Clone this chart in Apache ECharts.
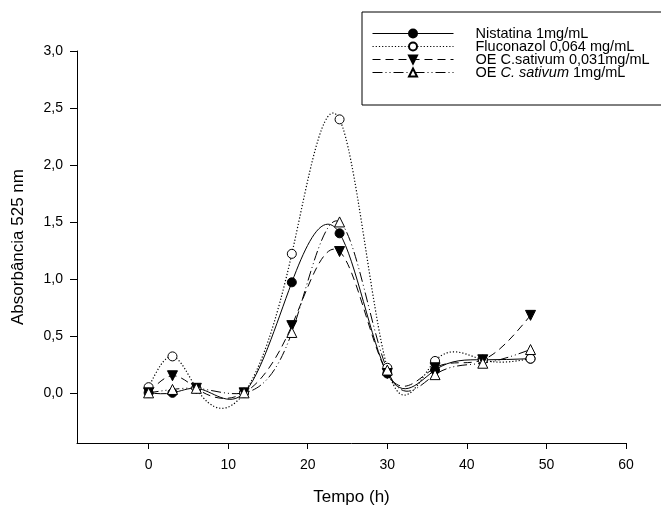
<!DOCTYPE html>
<html>
<head>
<meta charset="utf-8">
<script src="https://cdn.jsdelivr.net/npm/echarts@6/dist/echarts.min.js"></script>
<style>
  html, body { margin: 0; padding: 0; background: #fff; }
  #chart { width: 661px; height: 511px; }
</style>
</head>
<body>
<div id="chart"></div>
<script>
// tempo (h) e absorbância
var tempo = [0, 3, 6, 12, 18, 24, 30, 36, 42, 48];
var nistatina = [0.0, 0.0, 0.04, 0.0, 0.97, 1.40, 0.17, 0.20, 0.29, 0.30];
var fluconazol = [0.05, 0.32, 0.04, 0.0, 1.22, 2.40, 0.22, 0.28, 0.29, 0.30];
var oe031 = [0.0, 0.15, 0.04, 0.0, 0.59, 1.24, 0.17, 0.22, 0.29, 0.68];
var oe1 = [0.0, 0.03, 0.04, 0.0, 0.53, 1.50, 0.20, 0.16, 0.26, 0.38];

var xTicks = [0, 10, 20, 30, 40, 50, 60];
var yTicks = [0, 0.5, 1.0, 1.5, 2.0, 2.5, 3.0];

var nomes = ['Nistatina 1mg/mL', 'Fluconazol 0,064 mg/mL', 'OE C.sativum 0,031mg/mL', 'OE C. sativum 1mg/mL'];
var tracos = ['solid', [1.2, 2], [8, 5], [10, 3, 1, 3, 1, 3]];

function pares(ys) {
	var out = [];
	for (var i = 0; i < tempo.length; i++) {
		out.push([tempo[i], ys[i]]);
	}
	return out;
}

// spline cubica natural (como a curva do SigmaPlot), desenhada como bezier
function segmentos(xs, ys) {
	var n = xs.length;
	var h = [], M = [], a = [], b = [], c = [], d = [];
	for (var i = 0; i < n - 1; i++) h.push(xs[i + 1] - xs[i]);
	for (var i = 0; i < n; i++) {
		if (i === 0 || i === n - 1) { a[i] = 0; b[i] = 1; c[i] = 0; d[i] = 0; continue; }
		a[i] = h[i - 1];
		b[i] = 2 * (h[i - 1] + h[i]);
		c[i] = h[i];
		d[i] = 6 * ((ys[i + 1] - ys[i]) / h[i] - (ys[i] - ys[i - 1]) / h[i - 1]);
	}
	for (var i = 1; i < n; i++) {
		var w = a[i] / b[i - 1];
		b[i] -= w * c[i - 1];
		d[i] -= w * d[i - 1];
	}
	M[n - 1] = d[n - 1] / b[n - 1];
	for (var i = n - 2; i >= 0; i--) M[i] = (d[i] - c[i] * M[i + 1]) / b[i];
	var segs = [];
	for (var i = 0; i < n - 1; i++) {
		var dy = (ys[i + 1] - ys[i]) / h[i];
		var m0 = dy - h[i] * (2 * M[i] + M[i + 1]) / 6;
		var m1 = dy + h[i] * (M[i] + 2 * M[i + 1]) / 6;
		segs.push([
			[xs[i] + h[i] / 3, ys[i] + h[i] * m0 / 3],
			[xs[i + 1] - h[i] / 3, ys[i + 1] - h[i] * m1 / 3],
			[xs[i + 1], ys[i + 1]]
		]);
	}
	return segs;
}

function curva(ys, traco) {
	return {
		type: 'custom',
		silent: true,
		z: 1,
		data: pares(ys),
		encode: { x: 0, y: 1 },
		renderItem: function (params, api) {
			if (params.dataIndex !== 0) return null;
			var p0 = api.coord([tempo[0], ys[0]]);
			var d = 'M' + p0[0] + ' ' + p0[1];
			segmentos(tempo, ys).forEach(function (s) {
				var c1 = api.coord(s[0]), c2 = api.coord(s[1]), p = api.coord(s[2]);
				d += ' C' + c1[0] + ' ' + c1[1] + ' ' + c2[0] + ' ' + c2[1] + ' ' + p[0] + ' ' + p[1];
			});
			return {
				type: 'path',
				shape: { pathData: d },
				style: {
					stroke: '#000',
					fill: null,
					lineWidth: traco === tracos[1] ? 1.2 : 1,
					lineDash: traco === 'solid' ? null : traco
				}
			};
		}
	};
}

function pontos(i, ys, symbol, fill) {
	return {
		name: nomes[i],
		type: 'line',
		data: pares(ys),
		symbol: symbol,
		symbolSize: symbol === 'circle' ? 9 : 10,
		z: 3,
		lineStyle: { opacity: 0, width: 0 },
		itemStyle: { color: fill, borderColor: '#000', borderWidth: 1 }
	};
}

var font = 'Liberation Sans, Arial, sans-serif';
var myChart = echarts.init(document.getElementById('chart'));

var legendData = nomes.map(function (n, i) {
	return {
		name: n,
		lineStyle: { color: '#000', width: 1, opacity: 1, type: tracos[i] }
	};
});

var option = {
	animation: false,
	backgroundColor: '#fff',
	grid: { left: 77, right: 35, top: 51, bottom: 67 },
	legend: {
		orient: 'vertical',
		left: 362,
		top: 12,
		padding: [14, 20, 25, 10],
		borderColor: '#000',
		borderWidth: 1,
		itemWidth: 81,
		itemHeight: 10,
		itemGap: -2,
		data: legendData,
		textStyle: {
			fontFamily: font,
			fontSize: 14.5,
			lineHeight: 13,
			color: '#000',
			padding: [0, 0, 0, 17],
			rich: {
				n: { fontFamily: font, fontSize: 14.5, lineHeight: 13, color: '#000' },
				i: { fontFamily: font, fontSize: 14.5, lineHeight: 13, color: '#000', fontStyle: 'italic' }
			}
		},
		formatter: function (name) {
			if (name === nomes[3]) {
				return '{n|OE }{i|C. sativum}{n| 1mg/mL}';
			}
			return name;
		}
	},
	xAxis: {
		type: 'value',
		min: -9,
		max: 60,
		name: 'Tempo (h)',
		nameLocation: 'middle',
		nameGap: 46,
		nameTextStyle: { fontFamily: font, fontSize: 17, color: '#000' },
		axisLine: { onZero: false, lineStyle: { color: '#000', width: 1 } },
		axisTick: { length: 6, customValues: xTicks, lineStyle: { color: '#000' } },
		axisLabel: {
			customValues: xTicks,
			margin: 15,
			fontFamily: font,
			fontSize: 14,
			color: '#000'
		},
		splitLine: { show: false }
	},
	yAxis: {
		type: 'value',
		min: -0.44,
		max: 3.0,
		name: 'Absorbância 525 nm',
		nameLocation: 'middle',
		nameGap: 50,
		nameTextStyle: { fontFamily: font, fontSize: 17, color: '#000' },
		axisLine: { show: true, onZero: false, lineStyle: { color: '#000', width: 1 } },
		axisTick: { show: true, length: 7, customValues: yTicks, lineStyle: { color: '#000' } },
		axisLabel: {
			customValues: yTicks,
			margin: 14,
			fontFamily: font,
			fontSize: 14,
			color: '#000',
			formatter: function (v) { return v.toFixed(1).replace('.', ','); }
		},
		splitLine: { show: false }
	},
	series: [
		pontos(0, nistatina, 'circle', '#000'),
		pontos(1, fluconazol, 'circle', '#fff'),
		pontos(2, oe031, 'path://M0,0 L10,0 L5,9 Z', '#000'),
		pontos(3, oe1, 'triangle', '#fff'),
		curva(nistatina, tracos[0]),
		curva(fluconazol, tracos[1]),
		curva(oe031, tracos[2]),
		curva(oe1, tracos[3])
	]
};

myChart.setOption(option);
</script>
</body>
</html>
